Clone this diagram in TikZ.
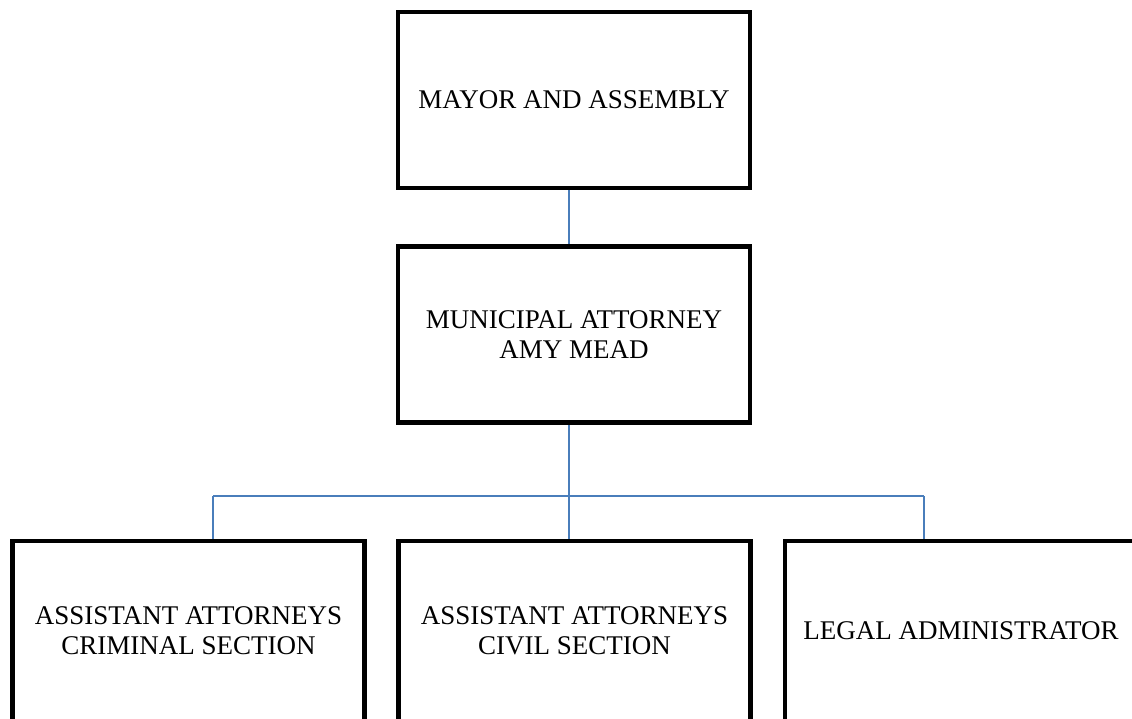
\documentclass[tikz,border=0pt]{standalone}
\usepackage{fontspec}
\setmainfont{Liberation Serif}
\definecolor{linkblue}{HTML}{4A7EBB}
\begin{document}
\begin{tikzpicture}[x=1pt,y=-1pt,
  orgbox/.style={draw=black,line width=4.5pt,fill=white,inner sep=0pt,
    minimum width=352pt,minimum height=176pt,align=center,
    font=\fontsize{27}{30}\selectfont},
  lowbox/.style={orgbox,minimum height=180pt},
  link/.style={draw=linkblue,line width=1.3pt}]
\useasboundingbox (0,0) rectangle (1132,719);
\node[orgbox] (top) at (574,100) {MAYOR AND ASSEMBLY};
\node[orgbox] (mid) at (574,334.5) {MUNICIPAL ATTORNEY\\AMY MEAD};
\node[lowbox] (bl) at (188.5,631) {ASSISTANT ATTORNEYS\\CRIMINAL SECTION};
\node[lowbox] (bm) at (574.5,631) {ASSISTANT ATTORNEYS\\CIVIL SECTION};
\node[lowbox] (br) at (961,631) {LEGAL ADMINISTRATOR};
\coordinate (j) at (569,496);
\coordinate (jl) at (213,496);
\coordinate (jr) at (924,496);
\path[link] (top.south -| j) -- (mid.north -| j);
\path[link] (mid.south -| j) -- (j);
\path[link] (jl) -- (jr);
\path[link] (jl) -- (bl.north -| jl);
\path[link] (j) -- (bm.north -| j);
\path[link] (jr) -- (br.north -| jr);
\end{tikzpicture}
\end{document}
